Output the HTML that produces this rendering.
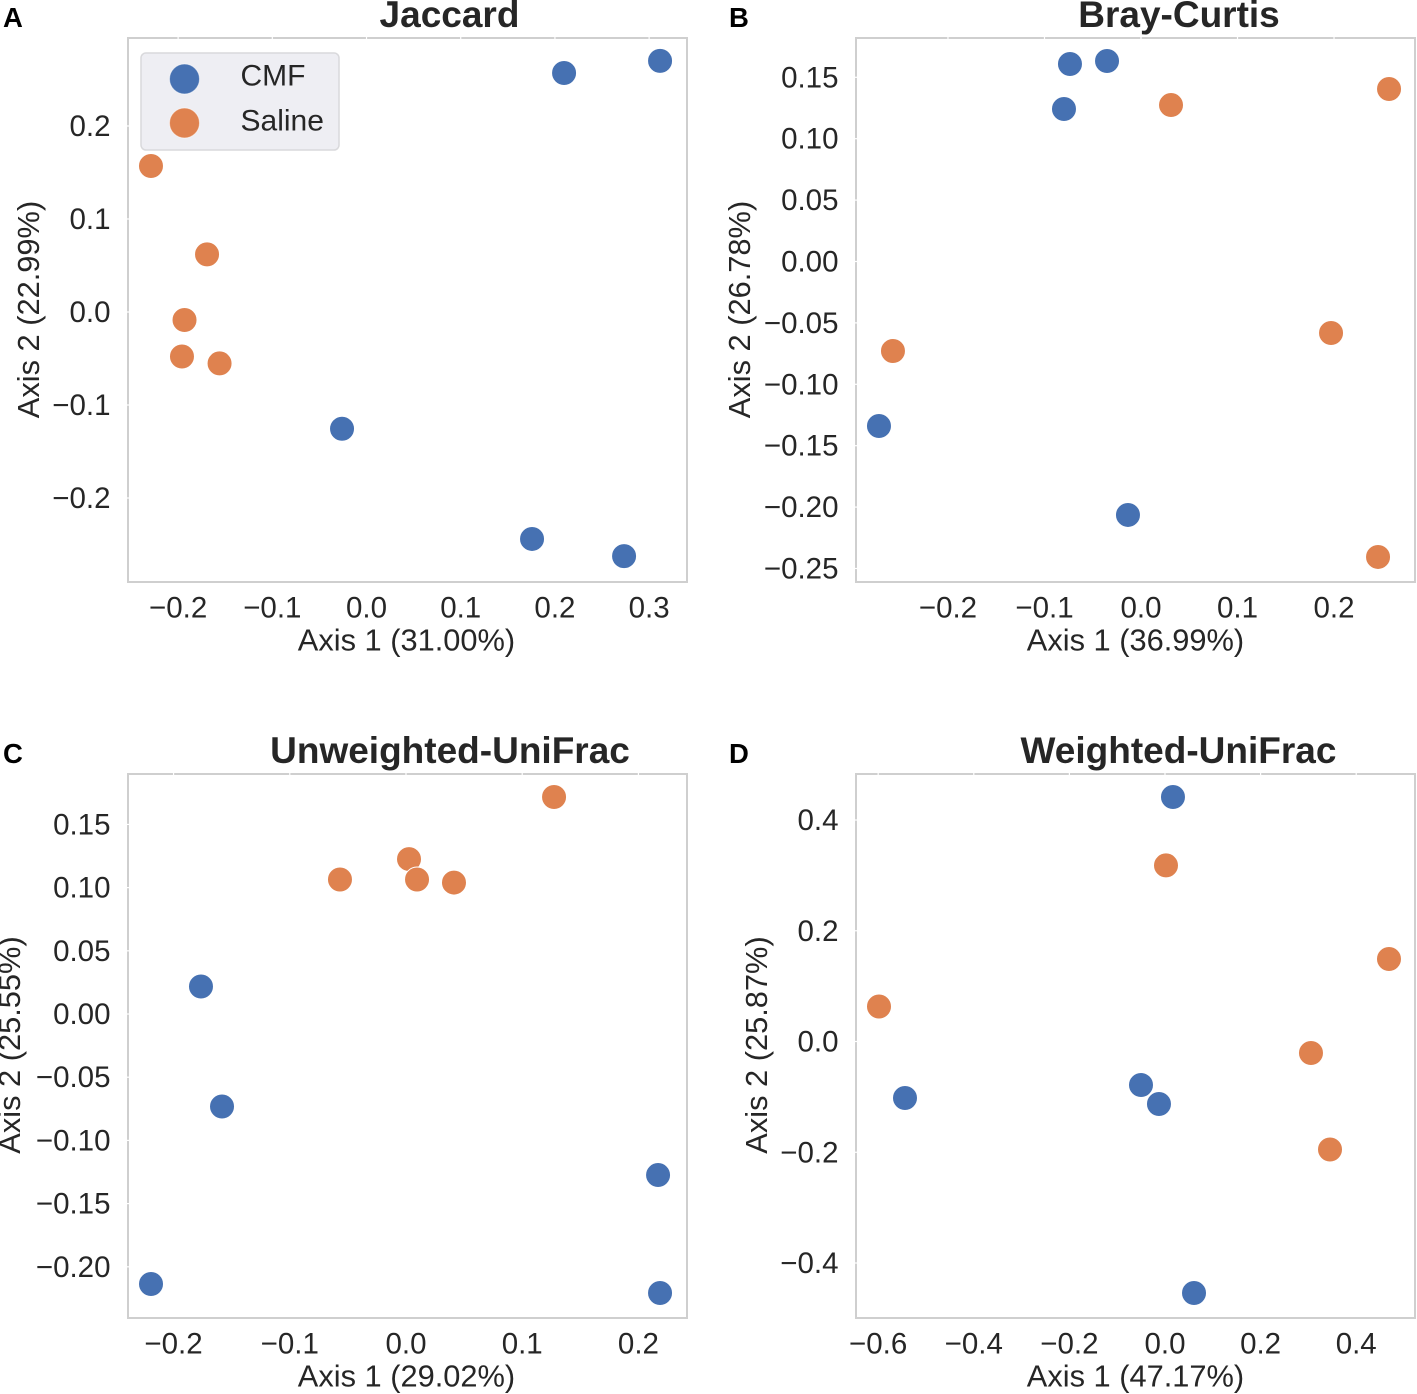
<!DOCTYPE html>
<html lang="en">
<head>
<meta charset="utf-8">
<title>PCoA ordination panels</title>
<style>
html,body{margin:0;padding:0;background:#fff;}
svg{display:block;font-family:"Liberation Sans",Arial,sans-serif;}
.title{font-size:37px;font-weight:700;fill:#262626;text-anchor:middle;}
.letter{font-size:27.5px;font-weight:700;fill:#000;}
.axis-title{font-size:30.8px;fill:#262626;text-anchor:middle;}
.tick{font-size:29.5px;fill:#262626;}
.legend-text{font-size:30px;fill:#262626;}
</style>
</head>
<body>
<svg id="figure" xmlns="http://www.w3.org/2000/svg" width="1417" height="1394" viewBox="0 0 1417 1394">
  <rect x="0" y="0" width="1417" height="1394" fill="#fff"/>
  <g id="plots"></g>

  <text class="letter" x="3" y="27">A</text>
  <text class="letter" x="729" y="27">B</text>
  <text class="letter" x="3" y="763">C</text>
  <text class="letter" x="729" y="763">D</text>

  <text class="title" x="449.5" y="27">Jaccard</text>
  <text class="title" x="1179" y="27">Bray-Curtis</text>
  <text class="title" x="450" y="763">Unweighted-UniFrac</text>
  <text class="title" x="1178.5" y="763">Weighted-UniFrac</text>

  <text class="axis-title" x="406.5" y="650.5">Axis 1 (31.00%)</text>
  <text class="axis-title" x="1135.5" y="650.5">Axis 1 (36.99%)</text>
  <text class="axis-title" x="406.5" y="1386.5">Axis 1 (29.02%)</text>
  <text class="axis-title" x="1135.5" y="1386.5">Axis 1 (47.17%)</text>

  <text class="axis-title" transform="translate(39 309.5) rotate(-90)">Axis 2 (22.99%)</text>
  <text class="axis-title" transform="translate(750 309.5) rotate(-90)">Axis 2 (26.78%)</text>
  <text class="axis-title" transform="translate(20 1045) rotate(-90)">Axis 2 (25.55%)</text>
  <text class="axis-title" transform="translate(767 1045) rotate(-90)">Axis 2 (25.87%)</text>

  <g>
    <rect x="141" y="53" width="198" height="97" rx="5" ry="5" fill="#eeeef3" stroke="#d9d9dc" stroke-width="1.5"/>
    <circle cx="184.5" cy="79" r="15" fill="#4671b2" stroke="#fff" stroke-opacity="0.5" stroke-width="1"/>
    <text class="legend-text" x="240.5" y="85.5">CMF</text>
    <circle cx="184.5" cy="123" r="15" fill="#df824f" stroke="#fff" stroke-opacity="0.5" stroke-width="1"/>
    <text class="legend-text" x="240.5" y="130.5">Saline</text>
  </g>
</svg>

<script>
// Jaccard
const jaccardCmfX = [0.2097, 0.3116, -0.0260, 0.1757, 0.2734];
const jaccardCmfY = [0.2570, 0.2700, -0.1255, -0.2440, -0.2625];
const jaccardSalineX = [-0.2288, -0.1693, -0.1932, -0.1959, -0.1560];
const jaccardSalineY = [0.1570, 0.0620, -0.0086, -0.0478, -0.0553];
const jaccardXTicks = ['-0.2', '-0.1', '0.0', '0.1', '0.2', '0.3'];
const jaccardYTicks = ['0.2', '0.1', '0.0', '-0.1', '-0.2'];
const jaccardXLim = [-0.2532, 0.3402];
const jaccardYLim = [-0.2903, 0.2946];

// Bray-Curtis
const brayCmfX = [-0.0736, -0.0352, -0.0798, -0.2715, -0.0135];
const brayCmfY = [0.1608, 0.1633, 0.1242, -0.1340, -0.2064];
const braySalineX = [0.0311, 0.2570, -0.2570, 0.1969, 0.2456];
const braySalineY = [0.1274, 0.1405, -0.0729, -0.0582, -0.2406];
const brayXTicks = ['-0.2', '-0.1', '0.0', '0.1', '0.2'];
const brayYTicks = ['0.15', '0.10', '0.05', '0.00', '-0.05', '-0.10', '-0.15', '-0.20', '-0.25'];
const brayXLim = [-0.2953, 0.2839];
const brayYLim = [-0.2610, 0.1820];

// Unweighted-UniFrac
const unweightedCmfX = [-0.1764, -0.1583, 0.2169, -0.2194, 0.2186];
const unweightedCmfY = [0.0218, -0.0732, -0.1274, -0.2136, -0.2207];
const unweightedSalineX = [0.1274, -0.0568, 0.0026, 0.0095, 0.0413];
const unweightedSalineY = [0.1717, 0.1064, 0.1226, 0.1064, 0.1040];
const unweightedXTicks = ['-0.2', '-0.1', '0.0', '0.1', '0.2'];
const unweightedYTicks = ['0.15', '0.10', '0.05', '0.00', '-0.05', '-0.10', '-0.15', '-0.20'];
const unweightedXLim = [-0.2392, 0.2418];
const unweightedYLim = [-0.2405, 0.1899];

// Weighted-UniFrac
const weightedCmfX = [0.0167, -0.5439, -0.0502, -0.0126, 0.0607];
const weightedCmfY = [0.4415, -0.1020, -0.0786, -0.1129, -0.4542];
const weightedSalineX = [0.0021, 0.4686, -0.5983, 0.3054, 0.3452];
const weightedSalineY = [0.3180, 0.1490, 0.0632, -0.0208, -0.1950];
const weightedXTicks = ['-0.6', '-0.4', '-0.2', '0.0', '0.2', '0.4'];
const weightedYTicks = ['0.4', '0.2', '0.0', '-0.2', '-0.4'];
const weightedXLim = [-0.6464, 0.5230];
const weightedYLim = [-0.4993, 0.4831];

const NS = 'http://www.w3.org/2000/svg';
const BOX_W = 559;
const BOX_H = 544;
const SPINE = '#cfcfcf';
const COLORS = { cmf: '#4671b2', saline: '#df824f' };

function xAxis(p, v) {
  return p.left + (v - p.xLim[0]) / (p.xLim[1] - p.xLim[0]) * BOX_W;
}
function yAxis(p, v) {
  return p.top + (p.yLim[1] - v) / (p.yLim[1] - p.yLim[0]) * BOX_H;
}
function svgEl(tag, parent) {
  const el = document.createElementNS(NS, tag);
  parent.appendChild(el);
  return el;
}
function minus(s) {
  return s.replace('-', '\u2212');
}

function drawPanel(p) {
  const root = document.getElementById('plots');
  const g = svgEl('g', root);
  
  

  const frame = svgEl('rect', g);
  
  
  frame.setAttribute('x', p.left);
  frame.setAttribute('y', p.top);
  frame.setAttribute('width', BOX_W);
  frame.setAttribute('height', BOX_H);
  frame.setAttribute('fill', '#fff');
  frame.setAttribute('stroke', SPINE);
  frame.setAttribute('stroke-width', 2);

  p.xTicks.forEach(function (t) {
    const x = xAxis(p, parseFloat(t));
    const mark = svgEl('line', g);
    
    
    mark.setAttribute('x1', x);
    mark.setAttribute('x2', x);
    mark.setAttribute('y1', p.top - 2);
    mark.setAttribute('y2', p.top + 2);
    mark.setAttribute('stroke', '#fff');
    mark.setAttribute('stroke-width', 1.2);
    const label = svgEl('text', g);
    
    
    label.setAttribute('class', 'tick');
    label.setAttribute('x', x);
    label.setAttribute('y', p.top + BOX_H + 35.5);
    label.setAttribute('text-anchor', 'middle');
    label.textContent = minus(t);
  });

  p.yTicks.forEach(function (t) {
    const y = yAxis(p, parseFloat(t));
    const mark = svgEl('line', g);
    
    
    mark.setAttribute('x1', p.left - 2);
    mark.setAttribute('x2', p.left + 2);
    mark.setAttribute('y1', y);
    mark.setAttribute('y2', y);
    mark.setAttribute('stroke', '#fff');
    mark.setAttribute('stroke-width', 1.2);
    const label = svgEl('text', g);
    
    
    label.setAttribute('class', 'tick');
    label.setAttribute('x', p.left - 17.5);
    label.setAttribute('y', y + 10);
    label.setAttribute('text-anchor', 'end');
    label.textContent = minus(t);
  });

  p.cmfX.forEach(function (v, i) {
    const dot = svgEl('circle', g);
    
    
    dot.setAttribute('cx', xAxis(p, v));
    dot.setAttribute('cy', yAxis(p, p.cmfY[i]));
    dot.setAttribute('r', 12.5);
    dot.setAttribute('fill', COLORS.cmf);
    dot.setAttribute('stroke', '#fff');
    dot.setAttribute('stroke-width', 1);
  });

  p.salineX.forEach(function (v, i) {
    const dot = svgEl('circle', g);
    
    
    dot.setAttribute('cx', xAxis(p, v));
    dot.setAttribute('cy', yAxis(p, p.salineY[i]));
    dot.setAttribute('r', 12.5);
    dot.setAttribute('fill', COLORS.saline);
    dot.setAttribute('stroke', '#fff');
    dot.setAttribute('stroke-width', 1);
  });
}

drawPanel({ key: 'jaccard', left: 128, top: 38, xLim: jaccardXLim, yLim: jaccardYLim,
  xTicks: jaccardXTicks, yTicks: jaccardYTicks,
  cmfX: jaccardCmfX, cmfY: jaccardCmfY, salineX: jaccardSalineX, salineY: jaccardSalineY });
drawPanel({ key: 'bray-curtis', left: 856, top: 38, xLim: brayXLim, yLim: brayYLim,
  xTicks: brayXTicks, yTicks: brayYTicks,
  cmfX: brayCmfX, cmfY: brayCmfY, salineX: braySalineX, salineY: braySalineY });
drawPanel({ key: 'unweighted-unifrac', left: 128, top: 774, xLim: unweightedXLim, yLim: unweightedYLim,
  xTicks: unweightedXTicks, yTicks: unweightedYTicks,
  cmfX: unweightedCmfX, cmfY: unweightedCmfY, salineX: unweightedSalineX, salineY: unweightedSalineY });
drawPanel({ key: 'weighted-unifrac', left: 856, top: 774, xLim: weightedXLim, yLim: weightedYLim,
  xTicks: weightedXTicks, yTicks: weightedYTicks,
  cmfX: weightedCmfX, cmfY: weightedCmfY, salineX: weightedSalineX, salineY: weightedSalineY });
</script>
</body>
</html>
